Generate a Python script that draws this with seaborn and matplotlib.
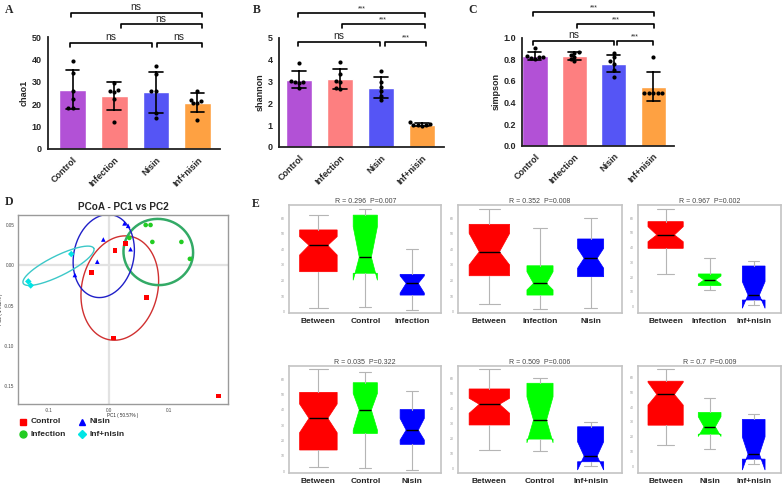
import numpy as np
import pandas as pd
import matplotlib
matplotlib.use("Agg")
import matplotlib.pyplot as plt
import seaborn as sns
from matplotlib.lines import Line2D

sns.set_style("white")
plt.rcParams["font.family"] = ["Liberation Sans", "DejaVu Sans"]

# ---------------- data ----------------
groups = ["Control", "Infection", "Nisin", "Inf+nisin"]
bar_colors = ["#b251d6", "#fd7f80", "#5555f5", "#fea142"]

chao1_control = [39.5, 34, 26, 22.5, 18.5, 18.5]
chao1_infection = [29.5, 26, 25.5, 26.5, 22.5, 12]
chao1_nisin = [37, 33.5, 26, 26, 16, 14]
chao1_infnisin = [26, 22, 21.5, 20.5, 20.5, 13]

shannon_control = [3.85, 3.05, 3.0, 3.0, 2.95, 2.7]
shannon_infection = [3.9, 3.35, 3.05, 3.0, 2.7, 2.65]
shannon_nisin = [3.5, 3.0, 2.75, 2.55, 2.35, 2.15]
shannon_infnisin = [1.15, 1.05, 1.0, 1.0, 1.0, 0.98]

simpson_control = [0.90, 0.83, 0.82, 0.82, 0.81, 0.80]
simpson_infection = [0.87, 0.86, 0.84, 0.82, 0.80, 0.78]
simpson_nisin = [0.86, 0.82, 0.78, 0.76, 0.70, 0.64]
simpson_infnisin = [0.82, 0.49, 0.49, 0.49, 0.49, 0.49]

pcoa_groups = ["Control", "Infection", "Nisin", "Inf+nisin"]
pcoa_colors = ["#ff0000", "#22cc22", "#0000ff", "#00e5e5"]
pcoa_markers = ["s", "o", "^", "D"]
pc1_control = [0.010, 0.028, -0.029, 0.062, 0.008, 0.181]
pc2_control = [0.018, 0.027, -0.009, -0.040, -0.090, -0.162]
pc1_infection = [0.061, 0.069, 0.034, 0.072, 0.120, 0.134]
pc2_infection = [0.050, 0.050, 0.034, 0.029, 0.029, 0.008]
pc1_nisin = [0.026, 0.032, -0.009, 0.036, -0.019, -0.056]
pc2_nisin = [0.052, 0.049, 0.032, 0.020, 0.0045, -0.012]
pc1_infnisin = [-0.062, -0.133, -0.129]
pc2_infnisin = [0.014, -0.020, -0.025]

ell_colors = ["#d03030", "#33aa66", "#2020c8", "#3cc8c8"]
ell_widths = [1.0, 1.8, 1.0, 1.0]
ell_cx = [0.0182, 0.0818, -0.0083, -0.0831]
ell_cy = [-0.0282, 0.0165, 0.0115, -0.0006]
ell_ax = [0.019, 0.057, 0.0149, 0.0583]
ell_ay = [0.0639, -0.0062, 0.0509, 0.0217]
ell_bx = [0.0613, -0.0078, 0.0484, 0.0073]
ell_by = [-0.0103, -0.0406, -0.0079, -0.0112]

box_colors = ["#ff0000", "#00ff00", "#0000ff"]
anosim_titles = ["R = 0.296  P=0.007", "R = 0.352  P=0.008", "R = 0.967  P=0.002",
                 "R = 0.035  P=0.322", "R = 0.509  P=0.006", "R = 0.7  P=0.009"]
anosim_labels = [["Between", "Control", "Infection"], ["Between", "Infection", "Nisin"],
                 ["Between", "Infection", "Inf+nisin"], ["Between", "Control", "Nisin"],
                 ["Between", "Control", "Inf+nisin"], ["Between", "Nisin", "Inf+nisin"]]
anosim_whislo = [[2.2, 3.2, 1.1], [4.8, 1.5, 2.6], [22, 11.3, 1.2],
                 [2.8, 1.8, 0.7], [12.2, 11.5, 1.5], [14.2, 11.3, 1.4]]
anosim_q1 = [[25.7, 24.7, 10.7], [23.1, 10.7, 22.5], [39.6, 14.3, 4.5],
             [13.7, 24.5, 17.4], [28.9, 19.5, 4.4], [27.7, 21.6, 4.7]]
anosim_med = [[42.6, 35, 18.2], [38.5, 18.2, 34.3], [48.7, 18.1, 7.9],
              [34.4, 39.8, 26.7], [42.7, 32.2, 8.2], [48.5, 26.6, 8.1]]
anosim_q3 = [[52.5, 62, 24], [56.1, 29.5, 46.7], [57.7, 22.2, 27.6],
             [51.3, 57.6, 40.1], [52.9, 56.7, 27.7], [57.5, 36.3, 31.6]]
anosim_whishi = [[62.1, 66, 40], [66, 54, 60], [66.3, 33.3, 31],
                 [66.5, 64.8, 51.9], [66, 60.4, 30.7], [66.1, 46.2, 35]]
anosim_cilo = [[36.4, 20.2, 12], [30, 14, 27.9], [44.1, 15.4, -1.1],
               [25, 26.7, 20.2], [36.7, 17, -1.1], [41.3, 20, -2.7]]
anosim_cihi = [[48.2, 54.6, 23], [50.3, 25.7, 40.7], [54.3, 20.8, 17],
               [43.7, 50.6, 34.3], [46.7, 47.7, 17.7], [56.8, 33.4, 19.8]]
anosim_ylim = [(-1.0, 68.5), (-1.0, 68.5), (-4.5, 69.0),
               (-1.3, 68.7), (-3.1, 68.4), (-4.7, 68.0)]
anosim_yticks = [0, 10, 20, 30, 40, 50, 60]

# ---------------- figure ----------------
W, H = 784, 487
fig = plt.figure(figsize=(W / 100, H / 100), dpi=100)


def px_axes(l, t, r, b):
    return fig.add_axes([l / W, 1 - b / H, (r - l) / W, (b - t) / H])


def letter(x, y, s):
    fig.text(x / W, 1 - y / H, s, fontsize=8.5, fontweight="bold",
             family="Liberation Serif", ha="left", va="center")


def bar_panel(ax, vals, ylabel, ymax, yticks, ytl, xlim, brackets, tick_h, txt_off):
    df = pd.DataFrame({"group": np.repeat(groups, [len(v) for v in vals]),
                       "value": np.concatenate(vals)})
    sns.barplot(data=df, x="group", y="value", hue="group", order=groups,
                hue_order=groups, palette=bar_colors, errorbar="sd", capsize=0.33,
                err_kws={"color": "k", "linewidth": 1.2}, width=0.64,
                saturation=1, legend=False, ax=ax)
    sns.swarmplot(data=df, x="group", y="value", order=groups, color="k",
                  size=3, ax=ax, zorder=3)
    ax.set_xlim(*xlim)
    ax.set_ylim(0, ymax)
    ax.set_yticks(yticks)
    ax.set_yticklabels(ytl, fontsize=6.5, fontweight="bold")
    ax.set_xticks(range(4))
    ax.set_xticklabels(groups, rotation=45, ha="right", rotation_mode="anchor",
                       fontsize=6.5, fontweight="bold")
    ax.set_xlabel("")
    ax.set_ylabel(ylabel, fontsize=6.5, fontweight="bold", labelpad=2)
    for s in ["top", "right"]:
        ax.spines[s].set_visible(False)
    for s in ["left", "bottom"]:
        ax.spines[s].set_linewidth(1.3)
        ax.spines[s].set_color("#222222")
    ax.tick_params(axis="both", length=3, width=1.1, pad=1.5, color="#222222")
    for x1, x2, y, txt in brackets:
        ax.plot([x1, x1, x2, x2], [y - tick_h, y, y, y - tick_h], color="k",
                lw=1.2, clip_on=False)
        fs = 7.5 if txt == "ns" else 5
        ax.text((x1 + x2) / 2, y + txt_off, txt, ha="center", va="bottom",
                fontsize=fs, clip_on=False)


# Panel A
axA = px_axes(48, 37, 220, 149)
bar_panel(axA, [chao1_control, chao1_infection, chao1_nisin, chao1_infnisin],
          "chao1", 50, [0, 10, 20, 30, 40, 50], ["0", "10", "20", "30", "40", "50"],
          (-0.588, 3.54),
          [(-0.04, 3.1, 60.8, "ns"), (1.16, 3.1, 55.7, "ns"),
           (-0.06, 1.9, 47.3, "ns"), (2.02, 3.1, 47.3, "ns")], 1.8, 0.3)
# Panel B
axB = px_axes(279, 38, 444, 147)
bar_panel(axB, [shannon_control, shannon_infection, shannon_nisin, shannon_infnisin],
          "shannon", 5, [0, 1, 2, 3, 4, 5], ["0", "1", "2", "3", "4", "5"],
          (-0.49, 3.54),
          [(-0.02, 3.07, 6.15, "***"), (1.04, 3.07, 5.64, "***"),
           (-0.02, 1.98, 4.82, "ns"), (2.1, 3.11, 4.82, "***")], 0.18, 0.03)
# Panel C
axC = px_axes(522, 37.7, 674, 145.7)
bar_panel(axC, [simpson_control, simpson_infection, simpson_nisin, simpson_infnisin],
          "simpson", 1.0, [0, 0.2, 0.4, 0.6, 0.8, 1.0],
          ["0.0", "0.2", "0.4", "0.6", "0.8", "1.0"], (-0.33, 3.53),
          [(-0.06, 3.03, 1.235, "***"), (1.06, 3.03, 1.127, "***"),
           (-0.04, 2.01, 0.972, "ns"), (2.07, 3.0, 0.972, "***")], 0.037, 0.006)

letter(5, 10, "A")
letter(253, 10, "B")
letter(468, 10, "C")
letter(5, 202, "D")
letter(252, 204, "E")

# Panel D: PCoA
axD = px_axes(18, 215, 228, 404)
pc1_all = [pc1_control, pc1_infection, pc1_nisin, pc1_infnisin]
pc2_all = [pc2_control, pc2_infection, pc2_nisin, pc2_infnisin]
dfp = pd.DataFrame({
    "group": np.repeat(pcoa_groups, [len(v) for v in pc1_all]),
    "PC1": np.concatenate(pc1_all),
    "PC2": np.concatenate(pc2_all)})
axD.axhline(0, color="#e2e2e2", lw=1.6, zorder=0)
axD.axvline(0, color="#e2e2e2", lw=1.6, zorder=0)
t = np.linspace(0, 2 * np.pi, 200)
for i in range(4):
    ex = ell_cx[i] + ell_ax[i] * np.cos(t) + ell_bx[i] * np.sin(t)
    ey = ell_cy[i] + ell_ay[i] * np.cos(t) + ell_by[i] * np.sin(t)
    axD.plot(ex, ey, color=ell_colors[i], lw=ell_widths[i], zorder=2)
sns.scatterplot(data=dfp, x="PC1", y="PC2", hue="group", style="group",
                hue_order=pcoa_groups, style_order=pcoa_groups,
                palette=dict(zip(pcoa_groups, pcoa_colors)),
                markers=dict(zip(pcoa_groups, pcoa_markers)),
                s=11, linewidth=0, legend=False, ax=axD, zorder=3)
axD.set_xlim(-0.150, 0.197)
axD.set_ylim(-0.172, 0.0624)
axD.set_xticks([-0.1, 0.0, 0.1])
axD.set_xticklabels(["-0.1", "0.0", "0.1"], fontsize=3.3)
axD.set_yticks([0.05, 0.0, -0.05, -0.10, -0.15])
axD.set_yticklabels(["0.05", "0.00", "-0.05", "-0.10", "-0.15"], fontsize=3.3)
axD.tick_params(length=1.5, width=0.5, pad=1.2, colors="#444444")
axD.set_xlabel("PC1 ( 50.57% )", fontsize=3.3, labelpad=0.5)
axD.set_ylabel("PC2 ( 14.62% )", fontsize=3.3, labelpad=0.3)
for s in axD.spines.values():
    s.set_color("#9a9a9a")
    s.set_linewidth(1.0)
fig.text(123 / W, 1 - 207 / H, "PCoA - PC1 vs PC2", fontsize=7.2,
         fontweight="bold", ha="center", va="center")
leg_pos = [(22.7, 421.7), (22.7, 434), (82, 421.7), (82, 434)]
for i, g in enumerate(pcoa_groups):
    mx, my = leg_pos[i]
    fig.add_artist(Line2D([mx / W], [1 - my / H], marker=pcoa_markers[i],
                          color=pcoa_colors[i], markersize=5 if i != 3 else 4.5,
                          linestyle="none", transform=fig.transFigure))
    fig.text((mx + 7.5) / W, 1 - my / H, g, fontsize=6, fontweight="bold",
             ha="left", va="center")

# Panel E: ANOSIM boxplots
rows = [(205, 313.3), (365.7, 473)]
cols = [(289.3, 441.3), (458, 622), (638.3, 781)]
for k in range(6):
    r, c = divmod(k, 3)
    ax = px_axes(cols[c][0], rows[r][0], cols[c][1], rows[r][1])
    stats = []
    for j in range(3):
        stats.append(dict(label=anosim_labels[k][j], whislo=anosim_whislo[k][j],
                          q1=anosim_q1[k][j], med=anosim_med[k][j],
                          q3=anosim_q3[k][j], whishi=anosim_whishi[k][j],
                          cilo=anosim_cilo[k][j], cihi=anosim_cihi[k][j],
                          fliers=[]))
    bp = ax.bxp(stats, positions=[1, 2, 3], widths=[0.8, 0.516, 0.516],
                patch_artist=True, shownotches=True, showfliers=False,
                whiskerprops=dict(color="#b5b5b5", lw=0.8),
                capprops=dict(color="#b5b5b5", lw=0.8),
                medianprops=dict(color="k", lw=1.0))
    for j, patch in enumerate(bp["boxes"]):
        patch.set_facecolor(box_colors[j])
        patch.set_edgecolor(box_colors[j])
        patch.set_linewidth(0.5)
    ax.set_xlim(0.38, 3.62)
    ax.set_ylim(*anosim_ylim[k])
    ax.set_yticks(anosim_yticks)
    ax.set_yticklabels([str(v) for v in anosim_yticks], fontsize=2.5, color="#666666")
    ax.set_xticks([1, 2, 3])
    ax.set_xticklabels(anosim_labels[k], fontsize=6, fontweight="bold", color="#222222")
    ax.tick_params(axis="both", length=1.5, width=0.5, colors="#999999", pad=1.5)
    for lab in ax.get_xticklabels():
        lab.set_color("#222222")
    ax.tick_params(axis="x", pad=2)
    for s in ax.spines.values():
        s.set_color("#c4c4c4")
        s.set_linewidth(1.2)
    ax.set_title(anosim_titles[k], fontsize=5, color="#444444", pad=1.5)

fig.savefig("out.png", dpi=100)
